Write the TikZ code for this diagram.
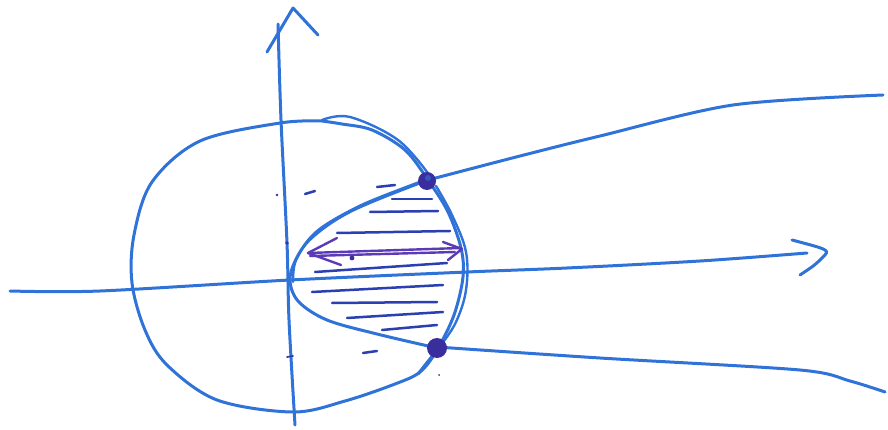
\documentclass[tikz,border=0pt]{standalone}
\usetikzlibrary{calc}
\definecolor{ink}{HTML}{2F72D8}
\definecolor{inkdark}{HTML}{2B3FB0}
\definecolor{inkpurple}{HTML}{5B3AB8}
\definecolor{dotink}{HTML}{3A2E9E}
\begin{document}
\begin{tikzpicture}[x=1pt,y=-1pt,line cap=round,line join=round,
  pen/.style={draw=ink,line width=3pt},
  thinpen/.style={draw=ink,line width=2.4pt},
  hatch/.style={draw=inkdark,line width=2.5pt},
  arrowpen/.style={draw=inkpurple,line width=2.4pt},
  blob/.style={fill=dotink}]
\useasboundingbox (0,0) rectangle (888,430);
% horizontal axis
\draw[pen] plot[smooth,tension=0.5] coordinates {(10,291) (100,291) (290,280) (467,272) (567,268) (700,261) (807,253)};
\draw[pen] (792,240) .. controls (830,250) .. (823,257) .. controls (815,265) .. (800,275);
% vertical axis
\draw[pen] plot[smooth,tension=0.5] coordinates {(295,425) (289,320) (287,243) (281,120) (278,24)};
\draw[pen] (267,52) -- (293,8) -- (318,35);
% circle
\draw[pen] plot[smooth,tension=0.55] coordinates {(322,121) (280,123) (200,141) (152,182) (134,235) (132,283) (145,330) (167,365) (217,400) (293,412) (345,401) (395,384) (420,372) (437,350) (454,315) (463,277) (461,248) (448,212) (428,180) (405,150) (372,130) (342,124) (322,121)};
\draw[thinpen] plot[smooth,tension=0.6] coordinates {(322,120) (350,117) (398,140) (430,176)};
\draw[thinpen] plot[smooth,tension=0.6] coordinates {(436,186) (452,215) (466,252) (466,290) (456,322) (441,345)};
% parabola
\draw[pen] plot[smooth,tension=0.55] coordinates {(432,178) (407,187) (360,206) (320,229) (300,252) (290,278) (298,301) (327,320) (377,334) (437,348)};
\draw[thinpen] plot[smooth,tension=0.6] coordinates {(418,184) (352,211) (313,237) (296,260) (293,282)};
% long branches
\draw[pen] plot[smooth,tension=0.5] coordinates {(428,180) (520,156) (600,136) (733,105) (883,95)};
\draw[pen] plot[smooth,tension=0.5] coordinates {(437,347) (600,358) (800,370) (850,381) (885,392)};
% lower circle tail to bottom
\draw[pen] (437,350) -- (418,374);
% hatching
\draw[hatch] (305,194) -- (315,191);
\draw[hatch] (377,187) -- (395,185);
\draw[hatch] (392,199) -- (432,199);
\draw[hatch] (370,212) -- (438,211);
\draw[hatch] (337,233) -- (450,231);
\draw[hatch] (315,272) -- (447,263);
\draw[hatch] (312,292) -- (443,285);
\draw[hatch] (332,303) -- (437,302);
\draw[hatch] (347,318) -- (443,312);
\draw[hatch] (382,330) -- (437,325);
\draw[hatch] (363,353) -- (377,351);
% purple double arrow
\draw[arrowpen] (308,253) -- (461,248);
\draw[arrowpen] (310,256) -- (455,252);
\draw[arrowpen] (337,238) -- (308,253) -- (341,265);
\draw[arrowpen] (443,242) -- (462,249) -- (448,260);
% small marks
\fill[dotink] (352,258) circle (2.4);
\fill[dotink] (277,195) circle (1.3);
\fill[dotink] (287,243) circle (1.8);
\draw[hatch,line width=1.8pt] (287,357) -- (293,356);
\fill[dotink] (439,375) circle (1);
% intersection blobs
\fill[blob] (427,181) circle (9);
\fill[ink!60!dotink] (428,178) circle (3);
\fill[blob] (437,348) circle (10);
\end{tikzpicture}
\end{document}
